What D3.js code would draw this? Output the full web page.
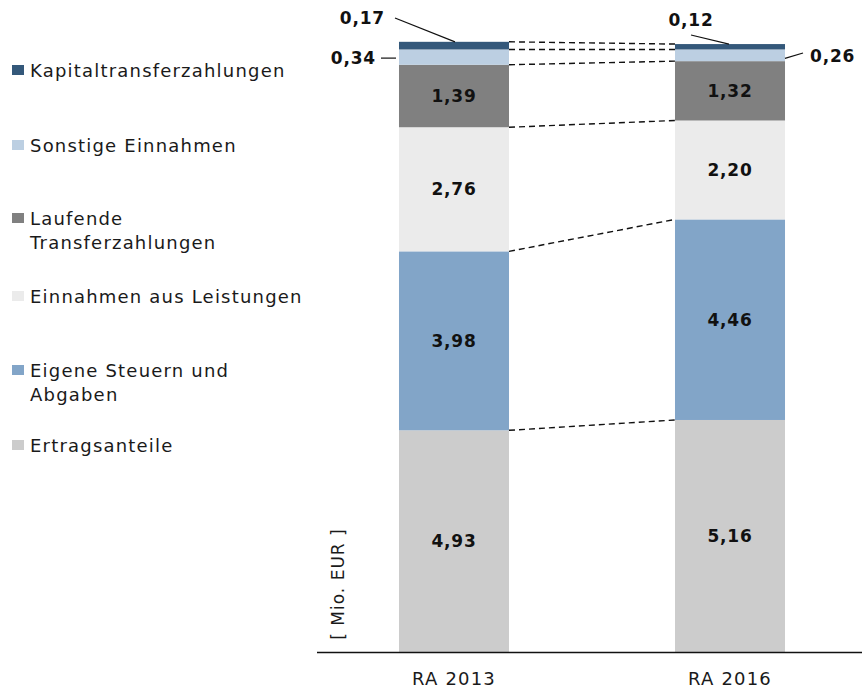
<!DOCTYPE html>
<html>
<head>
<meta charset="utf-8">
<script src="https://cdn.jsdelivr.net/npm/d3@7"></script>
<style>
  body { margin: 0; background: #fff; }
  svg { display: block; font-family: "DejaVu Sans", Verdana, sans-serif; }
</style>
</head>
<body>
<div id="chart"></div>
<script>
// categories and series (bottom to top in the stack)
var years = ['RA 2013', 'RA 2016'];
var seriesNames = ['Ertragsanteile', 'Eigene Steuern und Abgaben', 'Einnahmen aus Leistungen',
                   'Laufende Transferzahlungen', 'Sonstige Einnahmen', 'Kapitaltransferzahlungen'];
var ertragsanteile = [4.93, 5.16];
var eigeneSteuern = [3.98, 4.46];
var leistungen = [2.76, 2.20];
var laufendeTransfer = [1.39, 1.32];
var sonstige = [0.34, 0.26];
var kapitaltransfer = [0.17, 0.12];
var colors = ['#cccccc', '#82a5c8', '#ebebeb', '#808080', '#bccfe2', '#34587a'];

// legend order, top to bottom, with line breaks
var legendItems = [
    { key: 5, lines: ['Kapitaltransferzahlungen'], y: 70 },
    { key: 4, lines: ['Sonstige Einnahmen'], y: 145 },
    { key: 3, lines: ['Laufende', 'Transferzahlungen'], y: 218 },
    { key: 2, lines: ['Einnahmen aus Leistungen'], y: 296 },
    { key: 1, lines: ['Eigene Steuern und', 'Abgaben'], y: 370 },
    { key: 0, lines: ['Ertragsanteile'], y: 445 }
];

var width = 862, height = 691;
var baseY = 652;

var svg = d3.select('#chart').append('svg')
            .attr('width', width)
            .attr('height', height);

// build rows for the stack
var allSeries = [ertragsanteile, eigeneSteuern, leistungen, laufendeTransfer, sonstige, kapitaltransfer];
var rows = years.map(function(y, i) {
    var row = { year: y };
    seriesNames.forEach(function(s, j) { row[s] = allSeries[j][i]; });
    return row;
});
var stacked = d3.stack().keys(seriesNames)(rows);

var x = d3.scaleBand().domain(years).range([316, 868]).paddingInner(0.6014).paddingOuter(0.3007);
var y = d3.scaleLinear().domain([0, 14.5]).range([baseY, 0]);

// bars
var layers = svg.selectAll('.layer')
    .data(stacked)
    .enter()
    .append('g')
    .attr('class', 'layer')
    .attr('fill', function(d, i) { return colors[i]; });

layers.selectAll('rect')
    .data(function(d) { return d; })
    .enter()
    .append('rect')
    .attr('x', function(d) { return x(d.data.year); })
    .attr('width', x.bandwidth())
    .attr('y', function(d) { return y(d[1]); })
    .attr('height', function(d) { return y(d[0]) - y(d[1]); });

// dashed connectors between the segment tops
stacked.forEach(function(layer) {
    svg.append('line')
       .attr('x1', x(years[0]) + x.bandwidth())
       .attr('y1', y(layer[0][1]))
       .attr('x2', x(years[1]))
       .attr('y2', y(layer[1][1]))
       .attr('stroke', '#111')
       .attr('stroke-width', 1.4)
       .attr('stroke-dasharray', '6,4');
});

function fmt(v) { return v.toFixed(2).replace('.', ','); }

// labels inside the big segments
stacked.slice(0, 4).forEach(function(layer) {
    layer.forEach(function(d) {
        svg.append('text')
           .attr('x', x(d.data.year) + x.bandwidth() / 2)
           .attr('y', (y(d[0]) + y(d[1])) / 2 + 6)
           .attr('text-anchor', 'middle')
           .attr('font-size', 17)
           .attr('font-weight', 'bold')
           .attr('letter-spacing', 0.8)
           .attr('fill', '#111')
           .text(fmt(d[1] - d[0]));
    });
});

// outside labels for the two small segments
var sonst = stacked[4], kap = stacked[5];
var left = x(years[0]);

function outLabel(tx, ty, anchor, text) {
    svg.append('text')
       .attr('x', tx).attr('y', ty)
       .attr('text-anchor', anchor)
       .attr('font-size', 17)
       .attr('font-weight', 'bold')
       .attr('letter-spacing', 0.8)
       .attr('fill', '#111')
       .text(text);
}
function leader(x1, y1, x2, y2) {
    svg.append('line')
       .attr('x1', x1).attr('y1', y1).attr('x2', x2).attr('y2', y2)
       .attr('stroke', '#111').attr('stroke-width', 1.2);
}

// 0,17
outLabel(385, 24, 'end', fmt(kapitaltransfer[0]));
leader(395, 18, left + 56, y(kap[0][1]));
// 0,34
outLabel(376, 64, 'end', fmt(sonstige[0]));
leader(381, (y(sonst[0][0]) + y(sonst[0][1])) / 2 + 1, left - 3, (y(sonst[0][0]) + y(sonst[0][1])) / 2 + 1);
// 0,12
outLabel(691, 26, 'middle', fmt(kapitaltransfer[1]));
leader(691, 35, x(years[1]) + 54, y(kap[1][1]));
// 0,26
outLabel(810, 62, 'start', fmt(sonstige[1]));
leader(785, (y(sonst[1][0]) + y(sonst[1][1])) / 2 + 3, 803, 53);

// baseline and category labels
svg.append('line')
   .attr('x1', 317).attr('x2', 862)
   .attr('y1', baseY + 0.5).attr('y2', baseY + 0.5)
   .attr('stroke', '#111').attr('stroke-width', 1.3);

svg.selectAll('.cat')
   .data(years)
   .enter()
   .append('text')
   .attr('class', 'cat')
   .attr('x', function(d) { return x(d) + x.bandwidth() / 2; })
   .attr('y', 685)
   .attr('text-anchor', 'middle')
   .attr('font-size', 18)
   .attr('letter-spacing', 1.2)
   .attr('fill', '#1a1a1a')
   .text(function(d) { return d; });

// unit label
svg.append('text')
   .attr('transform', 'translate(344,584) rotate(-90)')
   .attr('text-anchor', 'middle')
   .attr('font-size', 17)
   .attr('letter-spacing', 1)
   .attr('fill', '#1a1a1a')
   .text('[ Mio.  EUR ]');

// legend
var legend = svg.selectAll('.legend')
    .data(legendItems)
    .enter()
    .append('g')
    .attr('class', 'legend')
    .attr('transform', function(d) { return 'translate(0,' + d.y + ')'; });

legend.append('rect')
      .attr('x', 12).attr('y', -5)
      .attr('width', 12).attr('height', 10)
      .attr('fill', function(d) { return colors[d.key]; });

legend.append('text')
      .attr('x', 30)
      .attr('y', 7)
      .attr('font-size', 18)
      .attr('letter-spacing', 1.2)
      .attr('fill', '#1a1a1a')
      .selectAll('tspan')
      .data(function(d) { return d.lines; })
      .enter()
      .append('tspan')
      .attr('x', 30)
      .attr('dy', function(d, i) { return i === 0 ? 0 : 24; })
      .text(function(d) { return d; });
</script>
</body>
</html>
